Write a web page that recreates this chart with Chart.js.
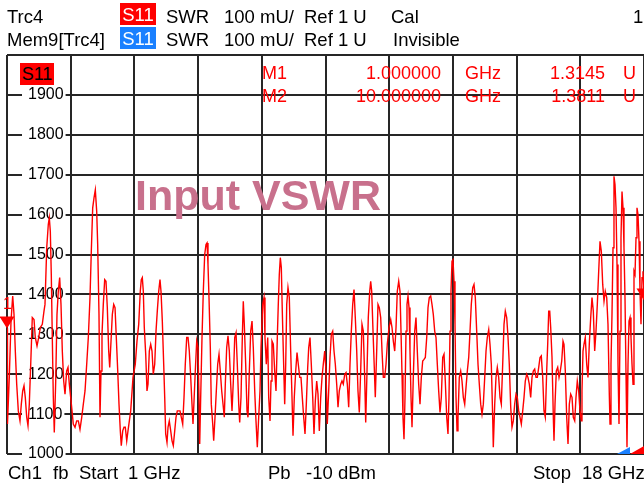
<!DOCTYPE html>
<html>
<head>
  <title>Trc4 - Input VSWR</title>
  <script src="https://cdn.jsdelivr.net/npm/chart.js"></script>
  <style>
    body { margin: 0; background: #fff; }
    #wrap { position: relative; width: 644px; height: 488px; overflow: hidden; font-family: "Liberation Sans", Arial, sans-serif; }
    #wrap canvas { position: absolute; left: 0; top: 0; }
    .t { position: absolute; white-space: pre; font-size: 18.5px; line-height: 1; color: #000; }
    .box { position: absolute; width: 36px; height: 22px; line-height: 23px; text-align: center; font-size: 18.5px; color: #fff; }
    .mk { position: absolute; white-space: pre; font-size: 18px; line-height: 1; color: #ff0000; }
  </style>
</head>
<body>
  <div id="wrap">
    <canvas id="vswrChart" width="644" height="488"></canvas>

    <!-- header -->
    <div class="t" style="left:7px; top:8px;">Trc4</div>
    <div class="box" style="left:120px; top:3px; background:#ff0000;">S11</div>
    <div class="t" style="left:166px; top:8px;">SWR</div>
    <div class="t" style="left:224px; top:8px;">100 mU/</div>
    <div class="t" style="left:304px; top:8px;">Ref 1 U</div>
    <div class="t" style="left:391px; top:8px;">Cal</div>
    <div class="t" style="left:633px; top:8px;">1</div>

    <div class="t" style="left:7px; top:31px;">Mem9[Trc4]</div>
    <div class="box" style="left:120px; top:27px; background:#1a80ff;">S11</div>
    <div class="t" style="left:166px; top:31px;">SWR</div>
    <div class="t" style="left:224px; top:31px;">100 mU/</div>
    <div class="t" style="left:304px; top:31px;">Ref 1 U</div>
    <div class="t" style="left:393px; top:31px;">Invisible</div>

    <!-- inside the diagram -->
    <div class="box" style="left:20px; top:63px; width:34px; background:#ff0000; color:#000; font-size:18px;">S11</div>
    <div class="mk" style="left:262px; top:64px;">M1</div>
    <div class="mk" style="right:203px; top:64px;">1.000000</div>
    <div class="mk" style="left:465px; top:64px;">GHz</div>
    <div class="mk" style="right:39px; top:64px;">1.3145</div>
    <div class="mk" style="left:623px; top:64px;">U</div>
    <div class="mk" style="left:262px; top:87px;">M2</div>
    <div class="mk" style="right:203px; top:87px;">10.000000</div>
    <div class="mk" style="left:465px; top:87px;">GHz</div>
    <div class="mk" style="right:39px; top:87px;">1.3811</div>
    <div class="mk" style="left:623px; top:87px;">U</div>
    <div class="mk" style="left:3px; top:296px; font-size:16px;">1</div>

    <div class="t" style="left:135px; top:174px; font-size:43px; font-weight:bold; color:#c8708c;">Input VSWR</div>

    <!-- footer -->
    <div class="t" style="left:8px; top:464px;">Ch1</div>
    <div class="t" style="left:53px; top:464px;">fb</div>
    <div class="t" style="left:79px; top:464px;">Start</div>
    <div class="t" style="left:128px; top:464px;">1 GHz</div>
    <div class="t" style="left:268px; top:464px;">Pb</div>
    <div class="t" style="left:306px; top:464px;">-10 dBm</div>
    <div class="t" style="left:533px; top:464px;">Stop</div>
    <div class="t" style="left:582px; top:464px;">18 GHz</div>
  </div>

  <script>
    // sweep 1 GHz .. 18 GHz, SWR in mU (1000 mU = 1 U)
    const START_GHZ = 1;
    const STOP_GHZ = 18;
    const X_GRID_GHZ = [1, 2.7, 4.4, 6.1, 7.8, 9.5, 11.2, 12.9, 14.6, 16.3, 18];
    const Y_MIN = 1000;
    const Y_MAX = 2000;
    const Y_STEP = 100;
    const REF_LEVEL = 1000;

    const FREQ_GHZ = [
      1.000, 1.013, 1.061, 1.107, 1.152, 1.187, 1.222, 1.259, 1.302, 1.347, 1.382, 1.419, 1.454, 1.488, 1.526, 1.560,
      1.595, 1.633, 1.675, 1.721, 1.755, 1.801, 1.846, 1.889, 1.942, 1.987, 2.014, 2.060, 2.102, 2.129, 2.156, 2.182,
      2.209, 2.236, 2.262, 2.300, 2.334, 2.369, 2.406, 2.441, 2.476, 2.513, 2.548, 2.593, 2.628, 2.663, 2.700, 2.735,
      2.769, 2.815, 2.860, 2.903, 2.948, 2.994, 3.037, 3.082, 3.127, 3.170, 3.215, 3.250, 3.287, 3.322, 3.357, 3.394,
      3.420, 3.455, 3.482, 3.509, 3.535, 3.570, 3.607, 3.642, 3.677, 3.714, 3.741, 3.776, 3.811, 3.848, 3.883, 3.917,
      3.955, 3.989, 4.024, 4.050, 4.088, 4.122, 4.157, 4.195, 4.229,
      4.301, 4.363, 4.424, 4.469, 4.515, 4.557, 4.584, 4.611, 4.638, 4.664, 4.702, 4.736, 4.763, 4.798, 4.835, 4.870,
      4.904, 4.942, 4.977, 5.011, 5.049, 5.083, 5.110, 5.145, 5.182, 5.209, 5.235, 5.270, 5.297, 5.331, 5.369, 5.404,
      5.438, 5.476, 5.510, 5.545, 5.582, 5.617, 5.652, 5.689, 5.724, 5.758, 5.796, 5.831, 5.865, 5.903, 5.937, 5.964,
      5.991, 6.025, 6.063, 6.097, 6.124, 6.143, 6.169, 6.204, 6.239, 6.276, 6.311, 6.338, 6.364, 6.391, 6.426, 6.452,
      6.490, 6.516, 6.551, 6.586, 6.623, 6.658, 6.692, 6.730, 6.765, 6.799, 6.826, 6.863, 6.898, 6.933, 6.970, 7.005,
      7.040, 7.077, 7.112, 7.146, 7.184, 7.210, 7.245, 7.280, 7.306, 7.333, 7.370, 7.405, 7.432, 7.467, 7.504, 7.539,
      7.573, 7.611, 7.645, 7.680, 7.717, 7.752,
      7.779, 7.824, 7.859, 7.885, 7.920, 7.958, 7.984, 8.019, 8.046, 8.072, 8.107, 8.144, 8.179, 8.214, 8.240, 8.267,
      8.294, 8.321, 8.347, 8.374, 8.411, 8.438, 8.465, 8.499, 8.534, 8.571, 8.606, 8.633, 8.667, 8.705, 8.740, 8.774,
      8.812, 8.846, 8.881, 8.918, 8.953, 8.988, 9.025, 9.052, 9.086, 9.121, 9.159, 9.193, 9.228, 9.265, 9.300, 9.335,
      9.372, 9.407, 9.441, 9.479, 9.513, 9.548, 9.585, 9.620, 9.655, 9.692, 9.727, 9.762, 9.799, 9.834, 9.868, 9.906,
      9.940, 9.975, 10.013, 10.047, 10.082, 10.119, 10.154, 10.189, 10.226, 10.261, 10.295, 10.333, 10.367, 10.402,
      10.439, 10.474, 10.509, 10.546, 10.573, 10.608, 10.642, 10.680, 10.706, 10.733, 10.768, 10.802, 10.829, 10.866,
      10.901, 10.936, 10.973, 11.008, 11.043, 11.080, 11.115, 11.149,
      11.195, 11.240, 11.275, 11.310, 11.347, 11.382, 11.416, 11.454, 11.488, 11.515, 11.542, 11.568, 11.595, 11.622,
      11.649, 11.675, 11.702, 11.729, 11.755, 11.782, 11.809, 11.843, 11.881, 11.915, 11.950, 11.987, 12.022, 12.057,
      12.094, 12.129, 12.164, 12.201, 12.236, 12.270, 12.308, 12.342, 12.377, 12.414, 12.449, 12.484, 12.521, 12.556,
      12.591, 12.628, 12.663, 12.697, 12.735, 12.769, 12.796, 12.823, 12.849, 12.876, 12.903, 12.930, 12.956, 12.983,
      13.010, 13.036, 13.071, 13.108, 13.143, 13.178, 13.215, 13.250, 13.285, 13.322, 13.357, 13.391, 13.429, 13.463,
      13.498, 13.535, 13.570, 13.605, 13.642, 13.677, 13.712, 13.749, 13.784, 13.818, 13.856, 13.890, 13.925, 13.962,
      13.978, 14.016, 14.050, 14.085, 14.122, 14.157, 14.192, 14.229, 14.264, 14.299, 14.336, 14.371, 14.405, 14.443,
      14.477, 14.512,
      14.549, 14.584, 14.619, 14.656, 14.691, 14.726, 14.763, 14.798, 14.832, 14.870, 14.904, 14.939, 14.976, 15.011,
      15.046, 15.083, 15.118, 15.153, 15.190, 15.225, 15.259, 15.297, 15.331, 15.366, 15.403, 15.430, 15.457, 15.484,
      15.510, 15.545, 15.580, 15.598, 15.625, 15.660, 15.697, 15.732, 15.766, 15.804, 15.839, 15.865, 15.900, 15.937,
      15.972, 16.007, 16.044, 16.079, 16.113, 16.151, 16.185, 16.220, 16.257, 16.292, 16.327, 16.345, 16.372, 16.398,
      16.433, 16.471, 16.505, 16.540, 16.578, 16.612, 16.647, 16.684, 16.719, 16.754, 16.791, 16.826, 16.861, 16.898,
      16.933, 16.967, 17.005, 17.039, 17.074, 17.093, 17.119, 17.146, 17.173, 17.199, 17.226, 17.253, 17.280, 17.306,
      17.333, 17.360, 17.386, 17.413, 17.440, 17.466, 17.493, 17.520, 17.546, 17.573, 17.600, 17.627, 17.653, 17.680,
      17.707, 17.733, 17.760, 17.787, 17.813, 17.840, 17.867, 17.893, 17.920, 17.947, 17.973, 18.000
    ];

    const SWR_MU = [
      1315, 1075, 1192, 1333, 1396, 1350, 1258, 1175, 1108, 1083, 1125, 1158, 1171, 1142, 1092, 1071,
      1125, 1225, 1342, 1337, 1292, 1271, 1292, 1317, 1325, 1358, 1375, 1517, 1575, 1592, 1558, 1450,
      1292, 1142, 1054, 1183, 1350, 1408, 1442, 1375, 1258, 1183, 1150, 1208, 1217, 1175, 1142, 1108,
      1075, 1067, 1083, 1083, 1062, 1092, 1125, 1158, 1225, 1292, 1392, 1508, 1617, 1642, 1662, 1608,
      1525, 1350, 1092, 1208, 1300, 1375, 1437, 1433, 1367, 1258, 1217, 1283, 1350, 1375, 1367, 1292,
      1208, 1125, 1058, 1021, 1058, 1067, 1067, 1033, 1058,
      1108, 1192, 1225, 1283, 1325, 1408, 1437, 1442, 1408, 1317, 1250, 1158, 1175, 1258, 1275, 1258,
      1200, 1225, 1308, 1358, 1408, 1437, 1408, 1333, 1225, 1142, 1050, 1029, 1067, 1083, 1058, 1033,
      1021, 1058, 1092, 1108, 1108, 1108, 1092, 1075, 1142, 1225, 1292, 1292, 1258, 1192, 1125, 1075,
      1133, 1208, 1283, 1267, 1142, 1025, 1142, 1292, 1408, 1500, 1525, 1529, 1475, 1392, 1267, 1125,
      1075, 1033, 1092, 1158, 1225, 1250, 1208, 1158, 1125, 1092, 1175, 1267, 1296, 1258, 1175, 1108,
      1183, 1292, 1304, 1225, 1125, 1079, 1142, 1292, 1383, 1325, 1225, 1108, 1092, 1208, 1308, 1333,
      1267, 1158, 1083, 1017, 1092, 1158,
      1267, 1375, 1392, 1292, 1225, 1292, 1142, 1083, 1183, 1283, 1275, 1208, 1158, 1292, 1375, 1450,
      1492, 1467, 1358, 1258, 1125, 1225, 1375, 1417, 1392, 1258, 1142, 1046, 1142, 1208, 1254, 1225,
      1192, 1192, 1142, 1092, 1050, 1125, 1217, 1267, 1292, 1225, 1142, 1050, 1133, 1183, 1150, 1058,
      1142, 1192, 1225, 1258, 1208, 1075, 1158, 1242, 1300, 1308, 1258, 1225, 1175, 1117, 1158, 1175,
      1183, 1175, 1200, 1204, 1175, 1117, 1225, 1308, 1375, 1412, 1342, 1258, 1158, 1104,
      1208, 1325, 1308, 1192, 1079, 1208, 1342, 1408, 1433, 1408, 1308, 1217, 1142, 1258,
      1375, 1367, 1342, 1258, 1192, 1192, 1225, 1275,
      1317, 1337, 1317, 1283, 1258, 1317, 1408, 1433, 1408, 1308, 1200, 1092, 1037, 1142,
      1308, 1375, 1396, 1367, 1258, 1142, 1067, 1192, 1308, 1342, 1258, 1175, 1125, 1192,
      1233, 1237, 1242, 1292, 1367, 1392, 1396, 1375, 1350, 1308, 1292, 1225, 1158, 1104,
      1142, 1242, 1250, 1183, 1092, 1050, 1142, 1308, 1408, 1483, 1487, 1433, 1325, 1142,
      1058, 1092, 1192, 1208, 1183, 1142, 1125, 1167, 1208, 1242, 1308, 1375, 1417, 1425,
      1392, 1308, 1225, 1175, 1125, 1100, 1125, 1192, 1258, 1292, 1312, 1275, 1225, 1092,
      1017, 1125, 1192, 1217, 1192, 1142, 1125, 1225, 1325, 1358, 1342, 1292, 1225, 1117,
      1067, 1083,
      1125, 1150, 1142, 1108, 1092, 1075, 1108, 1142, 1183, 1200, 1192, 1175, 1142, 1192,
      1208, 1213, 1192, 1192, 1217, 1242, 1246, 1192, 1108, 1092, 1208, 1275, 1358, 1358,
      1317, 1242, 1092, 1033, 1125, 1208, 1217, 1192, 1208, 1233, 1283, 1275, 1208, 1092,
      1025, 1125, 1150, 1142, 1092, 1083, 1142, 1183, 1158, 1108, 1083, 1158, 1258, 1275,
      1292, 1225, 1192, 1275, 1342, 1392, 1358, 1258, 1308, 1375, 1458, 1533, 1508, 1425,
      1383, 1408, 1392, 1325, 1150, 1075, 1225, 1350, 1517, 1696, 1675, 1617, 1475, 1225,
      1075, 1308, 1542, 1658, 1617, 1517, 1392, 1200, 1017, 1225, 1333, 1342, 1292, 1225,
      1175, 1458, 1450, 1542, 1617, 1600, 1533, 1408, 1325, 1442, 1458, 1408
    ];

    // marker triangles (tip sits on the trace value)
    const MARKER_FREQ = [1, 18];
    const MARKER_SWR = [1314.5, 1385];

    const traceData = FREQ_GHZ.map((f, i) => ({ x: f, y: SWR_MU[i] }));

    const markerPlugin = {
      id: 'vnaMarkers',
      afterDatasetsDraw(chart) {
        const { ctx, chartArea } = chart;
        const xs = chart.scales.x;
        const ys = chart.scales.y;
        ctx.save();
        ctx.fillStyle = '#ff0000';
        MARKER_FREQ.forEach((f, i) => {
          const px = xs.getPixelForValue(f);
          const py = ys.getPixelForValue(MARKER_SWR[i]);
          ctx.beginPath();
          ctx.moveTo(px - 7.5, py - 12);
          ctx.lineTo(px + 7.5, py - 12);
          ctx.lineTo(px, py);
          ctx.closePath();
          ctx.fill();
        });
        // reference level arrows at the right edge
        const ry = ys.getPixelForValue(REF_LEVEL);
        const rx = chartArea.right;
        ctx.fillStyle = '#1a80ff';
        ctx.beginPath();
        ctx.moveTo(rx - 27, ry);
        ctx.lineTo(rx - 14, ry);
        ctx.lineTo(rx - 14, ry - 7);
        ctx.closePath();
        ctx.fill();
        ctx.fillStyle = '#ff0000';
        ctx.beginPath();
        ctx.moveTo(rx - 14, ry);
        ctx.lineTo(rx, ry);
        ctx.lineTo(rx, ry - 8);
        ctx.closePath();
        ctx.fill();
        ctx.restore();
      }
    };

    new Chart(document.getElementById('vswrChart'), {
      type: 'line',
      data: {
        datasets: [{
          label: 'S11 SWR',
          data: traceData,
          borderColor: '#ff0000',
          borderWidth: 1.4,
          pointRadius: 0,
          tension: 0,
          fill: false
        }]
      },
      options: {
        responsive: false,
        animation: false,
        events: [],
        layout: { padding: { left: 7, top: 55, right: 0, bottom: 34 } },
        plugins: {
          legend: { display: false },
          tooltip: { enabled: false },
          title: { display: false }
        },
        scales: {
          x: {
            type: 'linear',
            min: START_GHZ,
            max: STOP_GHZ,
            afterBuildTicks: scale => { scale.ticks = X_GRID_GHZ.map(v => ({ value: v })); },
            afterFit: scale => { scale.height = 0; },
            ticks: { display: false },
            border: { display: false },
            grid: { color: '#262626', lineWidth: 2, drawTicks: false }
          },
          y: {
            type: 'linear',
            min: Y_MIN,
            max: Y_MAX,
            afterFit: scale => { scale.width = 0; },
            ticks: {
              stepSize: Y_STEP,
              mirror: true,
              padding: 21,
              color: '#000',
              font: { family: '"Liberation Sans", Arial, sans-serif', size: 16 },
              callback: v => (v >= Y_MAX ? '' : String(v)),
              showLabelBackdrop: c => c.tick && c.tick.value < Y_MAX,
              backdropColor: '#ffffff',
              backdropPadding: { left: 6, right: 2, top: 0, bottom: 0 }
            },
            border: { display: false },
            grid: { color: '#262626', lineWidth: 2, drawTicks: false }
          }
        }
      },
      plugins: [markerPlugin]
    });
  </script>
</body>
</html>
